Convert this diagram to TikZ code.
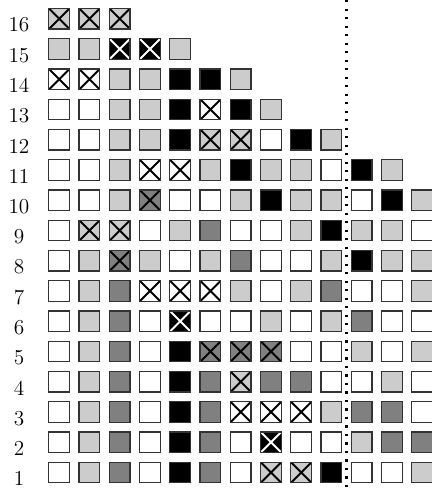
\documentclass[tikz,border=0pt]{standalone}
\begin{document}
\begin{tikzpicture}[x=0.6cm, y=0.6cm, font=\large]
        \tikzset{
            cell/.style={
                draw=black!80,
                line width=0.7pt,
                minimum size=0.41cm,
                inner sep=0pt,
                outer sep=0pt
            },
            xmark/.style={
                path picture={
                    \draw[line width=1.1pt, #1]
                        (path picture bounding box.south west) -- (path picture bounding box.north east)
                        (path picture bounding box.north west) -- (path picture bounding box.south east);
                }
            },
            w/.style={cell, fill=white},
            l/.style={cell, fill=black!20},
            d/.style={cell, fill=black!50},
            b/.style={cell, fill=black},
            wx/.style={w, xmark=black},
            lx/.style={l, xmark=black},
            dx/.style={d, xmark=black},
            bx/.style={b, xmark=white},
            rowlabel/.style={inner sep=0pt},
            divider/.style={line width=1.3pt, dash pattern=on 1.3pt off 3.5pt}
        }

        \useasboundingbox (-0.957, 0.322) rectangle (13.32, 16.62);

        \foreach \row/\cells in {
            16/{lx,lx,lx},
            15/{l,l,bx,bx,l},
            14/{wx,wx,l,l,b,b,l},
            13/{w,w,l,l,b,wx,b,l},
            12/{w,w,l,l,b,lx,lx,w,b,l},
            11/{w,w,l,wx,wx,l,b,l,l,w,b,l},
            10/{w,w,l,dx,w,w,l,b,l,l,w,b,l},
            9/{w,lx,lx,w,l,d,w,w,l,b,l,l,w},
            8/{w,l,dx,l,w,l,d,w,w,l,b,l,l},
            7/{w,l,d,wx,wx,wx,l,w,l,d,w,w,l},
            6/{w,l,d,w,bx,w,w,l,w,l,d,w,w},
            5/{w,l,d,w,b,dx,dx,dx,w,w,l,w,l},
            4/{w,l,d,w,b,d,lx,d,d,w,w,l,w},
            3/{w,l,d,w,b,d,wx,wx,wx,l,d,d,w},
            2/{w,l,d,w,b,d,w,bx,w,w,l,d,d},
            1/{w,l,d,w,b,d,w,lx,lx,b,w,w,l}} {
            \node[rowlabel] (lab-\row) at (-0.33, \row-0.21) {\row};
            \foreach \kind [count=\col] in \cells {
                \node[\kind] (sq-\row-\col) at (\col, \row) {};
            }
        }

        \coordinate (cut-top) at (10.5, 16.62);
        \coordinate (cut-bot) at (10.5, 0.322);
        \draw[divider] (cut-top) -- (cut-bot);
    \end{tikzpicture}
\end{document}
